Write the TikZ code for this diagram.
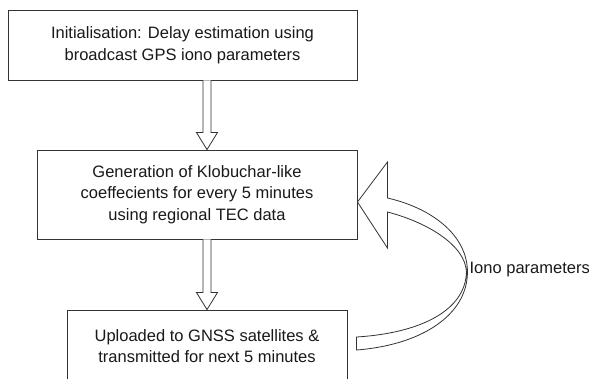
\documentclass[tikz,border=0pt]{standalone}
\usepackage{fontspec}
\setmainfont{Liberation Sans}
\usetikzlibrary{calc}
\def\blockdown(#1)(#2){\draw[line width=0.8pt, color=black!80, fill=white] ($(#1)+(-4,0)$) -- ($(#2)+(-4,-17)$) -- ($(#2)+(-10.5,-17)$) -- (#2) -- ($(#2)+(10.5,-17)$) -- ($(#2)+(4,-17)$) -- ($(#1)+(4,0)$);}

\begin{document}
\begin{tikzpicture}[x=1pt, y=-1pt,
	stepbox/.style={draw=black!80, line width=0.9pt, fill=white, text=black!90, align=center,
		font=\fontsize{16.5}{21.5}\selectfont, inner sep=0pt}]
			%%%%% START %%%%%
			\useasboundingbox (0, 0) rectangle (589, 378);
			\clip (0, 0) rectangle (589, 378);
			
			\node[stepbox, minimum width=349, minimum height=70] (init) at (182.5, 45) {Initialisation: Delay estimation using\\broadcast GPS iono parameters};
			\node[stepbox, minimum width=320, minimum height=89] (gen) at (197, 194.5) {Generation of Klobuchar-like\\coeffecients for every 5 minutes\\using regional TEC data};
			\node[stepbox, minimum width=280, minimum height=72] (up) at (207, 346) {Uploaded to GNSS satellites \&\\transmitted for next 5 minutes};
			
			\blockdown(init.south -| up.north)(gen.north -| up.north)
			\blockdown(gen.south -| up.north)(up.north)
			
			\coordinate (tip) at ($(gen.east)+(0, 7.5)$);
			\begin{scope}[shift={(tip)}]
				\draw[line width=0.8pt, color=black!80, fill=white] (-1, 148) .. controls (64, 143) and (110, 113) .. (110, 70) .. controls (110, 33) and (74, 6) .. (30, -4) -- (30, -40) -- (0, 0) -- (30, 46) -- (30, 10) .. controls (69, 20) and (108, 43) .. (109, 70) .. controls (108, 108) and (64, 131) .. (-1, 135) -- cycle;
			\end{scope}
			
			\node[anchor=west, inner sep=0pt, text=black!90, font=\fontsize{16.5}{21.5}\selectfont] (iono) at ($(tip)+(112, 68)$) {Iono parameters};
			
			%%%%% END %%%%%
		\end{tikzpicture}
\end{document}
